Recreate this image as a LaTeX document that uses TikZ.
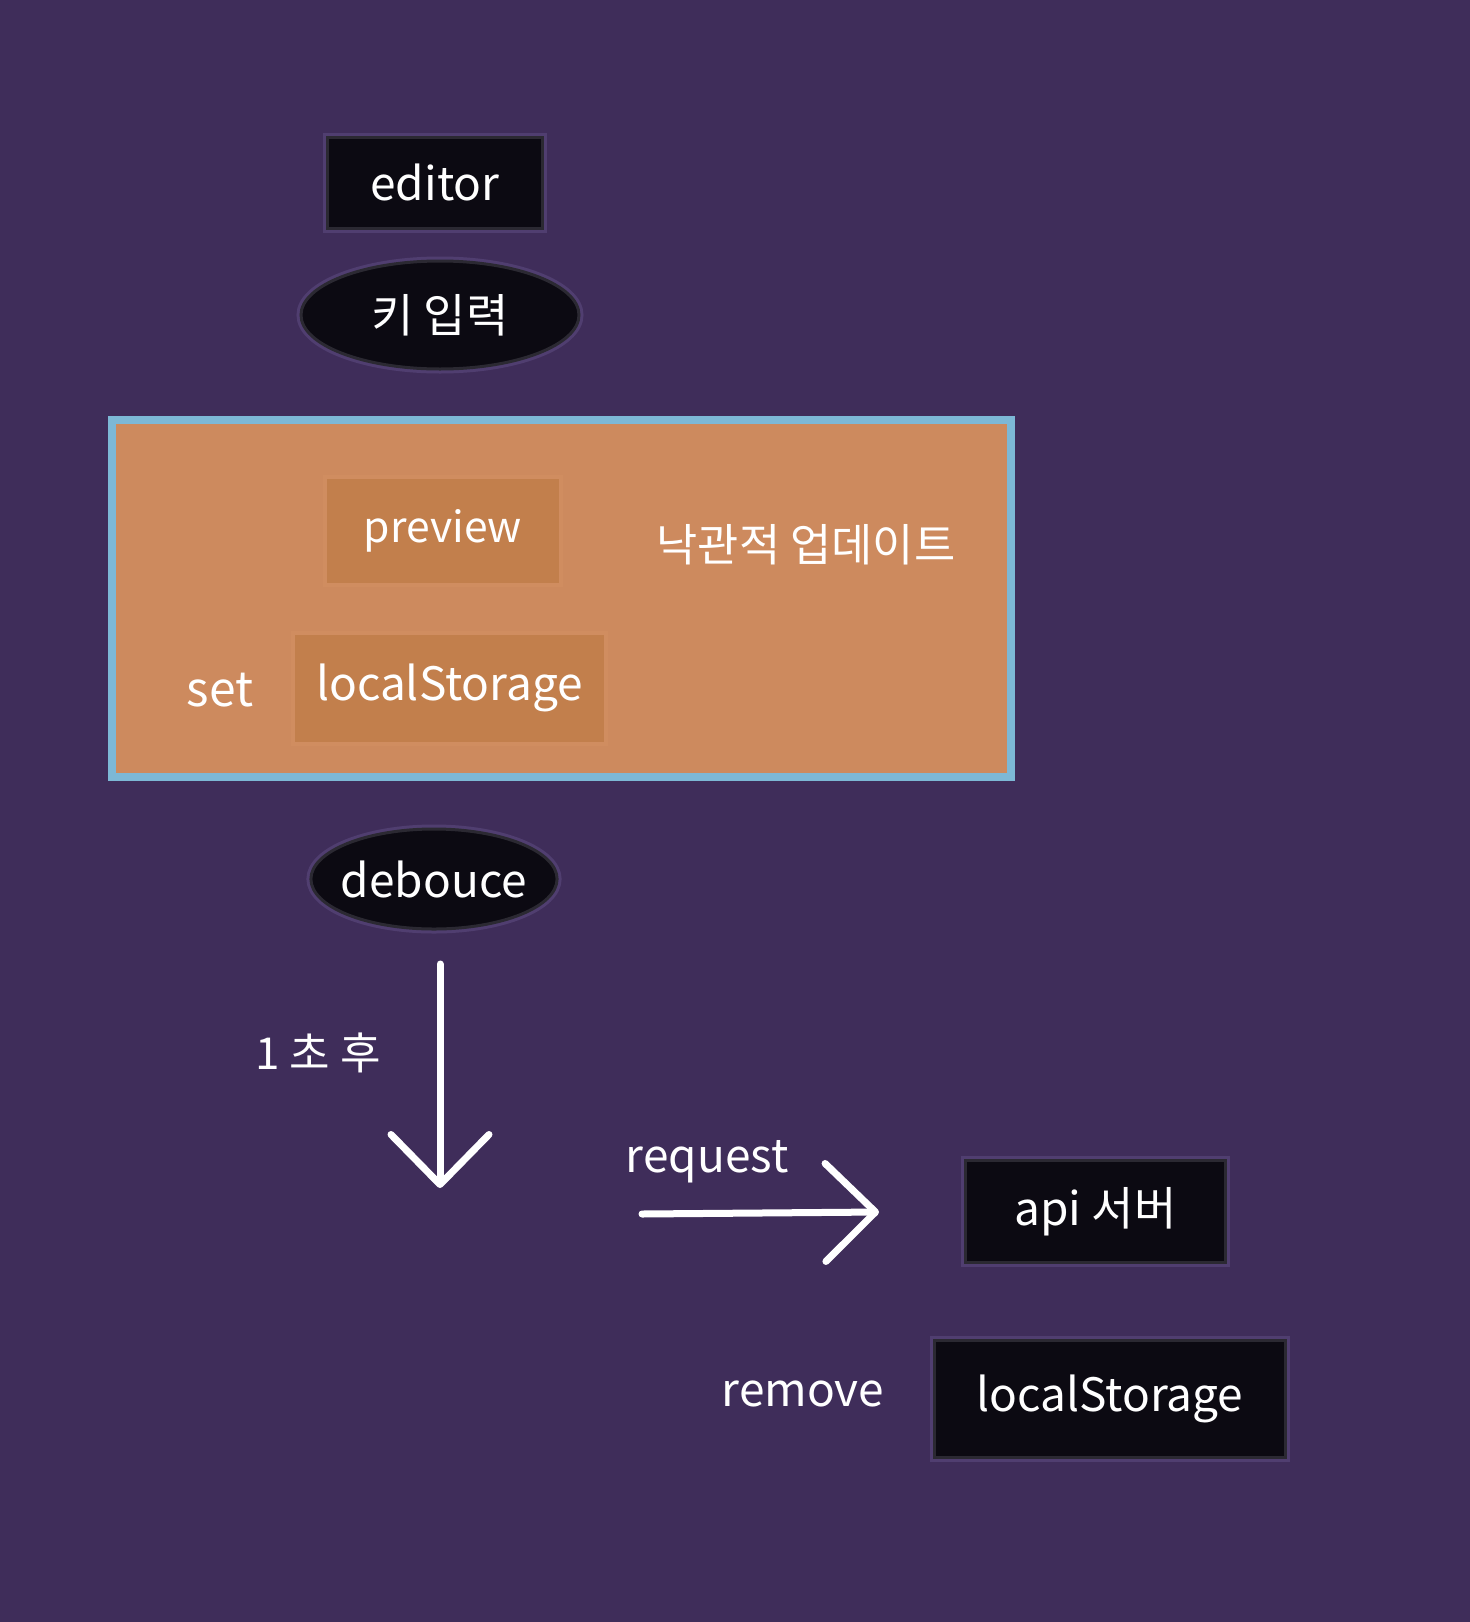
\documentclass[tikz,border=0pt]{standalone}
\usepackage{fontspec}
\setmainfont{Noto Sans CJK KR}
\usetikzlibrary{shapes.geometric,arrows.meta}

\definecolor{bgpurple}{HTML}{3F2D5A}
\definecolor{boxdark}{HTML}{0C0A12}
\definecolor{edgelight}{HTML}{503E70}
\definecolor{edgedark}{HTML}{2B2932}
\definecolor{orangebg}{HTML}{CD8A5E}
\definecolor{orangebox}{HTML}{C27F4C}
\definecolor{orangeedge}{HTML}{D08D60}
\definecolor{frameblue}{HTML}{7DB8D6}

\tikzset{
  big/.style={font=\fontsize{23pt}{28pt}\selectfont},
  darkbox/.style={big, text=white, fill=boxdark, draw=edgedark, line width=1.5pt,
    preaction={draw=edgelight, line width=4.5pt}, inner sep=0pt},
  darkoval/.style={darkbox, ellipse, inner xsep=-3pt},
  orangebox/.style={big, text=white, fill=orangebox, draw=orangeedge, line width=2pt, inner sep=0pt},
  label/.style={big, text=white},
  whitearrow/.style={white, line width=3.5pt, line cap=round, line join=round,
    -{Straight Barb[length=25pt, width=49pt, round]}}
}

\begin{document}
\begin{tikzpicture}[x=0.5pt, y=-0.5pt]
  \fill[bgpurple] (0,0) rectangle (1470,1622);
  \useasboundingbox (0,0) rectangle (1470,1622);

  \node[darkbox, minimum width=107.5pt, minimum height=45.5pt] (editor) at (435,182.5) {editor};
  \node[darkoval, minimum width=139pt, minimum height=54pt] (keyin) at (440,315) {키 입력};

  % optimistic update frame
  \node[fill=orangebg, draw=frameblue, line width=4pt, minimum width=449.5pt,
    minimum height=178.5pt, inner sep=0pt] (optimistic) at (561.5,598.5) {};
  \node[orangebox, font=\fontsize{21.3pt}{26pt}\selectfont, minimum width=118pt,
    minimum height=54pt] (preview) at (443,531) {preview};
  \node[orangebox, minimum width=156.5pt, minimum height=55.5pt] (localset) at (449.5,688) {localStorage};
  \node[label, font=\fontsize{24pt}{28pt}\selectfont] (set) at (220,690) {set};
  \node[label, font=\fontsize{22.4pt}{27pt}\selectfont] (optlabel) at (806,545) {낙관적 업데이트};

  \node[darkoval, minimum width=122pt, minimum height=50pt] (debounce) at (434,879) {debouce};

  \coordinate (waitstart) at (440,964);
  \coordinate (waitend) at (440,1188);
  \draw[whitearrow] (waitstart) -- (waitend);
  \node[label, font=\fontsize{22pt}{26pt}\selectfont] (wait) at (318,1053) {1 초 후};

  \coordinate (reqstart) at (642,1214);
  \coordinate (reqend) at (879,1212);
  \draw[whitearrow] (reqstart) -- (reqend);
  \node[label] (request) at (707,1162) {request};

  \node[darkbox, minimum width=130pt, minimum height=51pt] (api) at (1095.5,1211.5) {api 서버};
  \node[darkbox, minimum width=175.5pt, minimum height=58.5pt] (localrm) at (1110,1399) {localStorage};
  \node[label] (remove) at (803,1394) {remove};
\end{tikzpicture}
\end{document}
